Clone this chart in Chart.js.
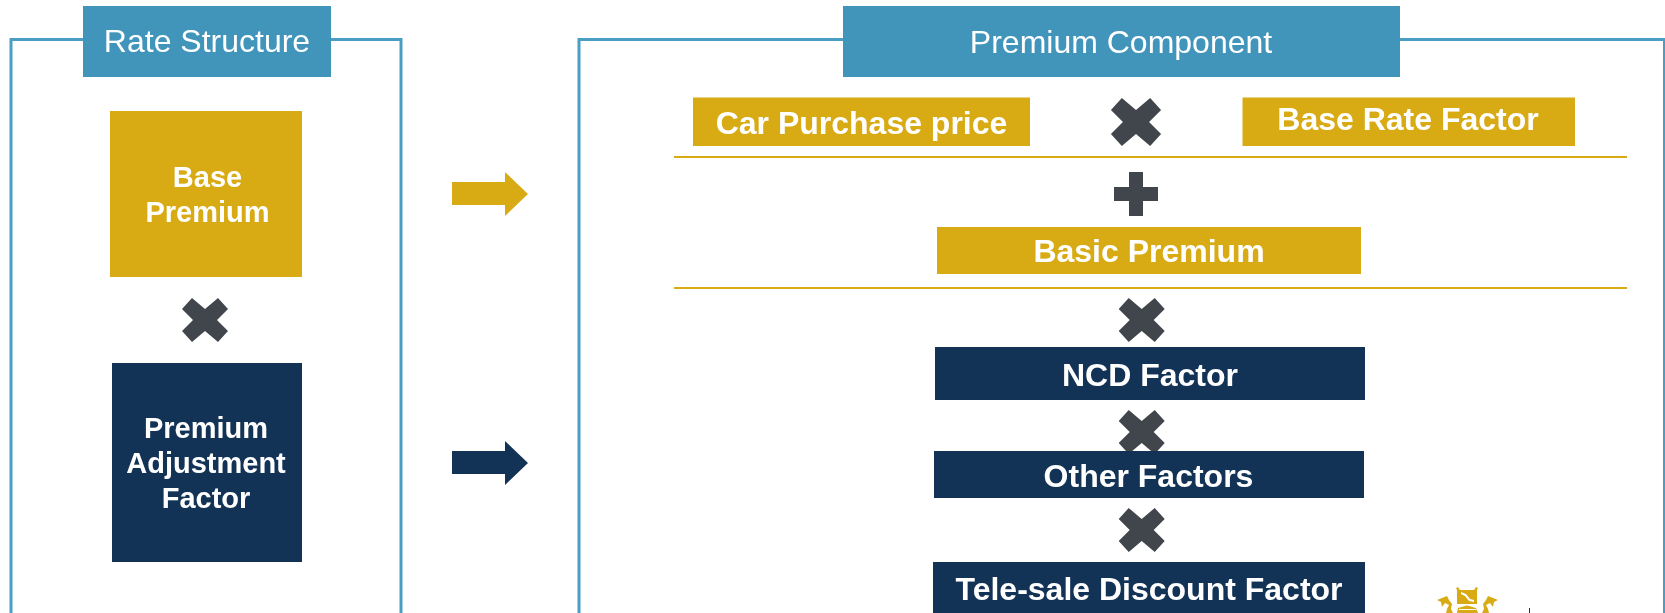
<!DOCTYPE html>
<html><head><meta charset="utf-8">
<style>html,body{margin:0;padding:0;background:#fff;overflow:hidden}canvas{display:block}</style>
<script src="https://cdn.jsdelivr.net/npm/chart.js@4/dist/chart.umd.min.js"></script>
</head><body><canvas id="c" width="1665" height="613"></canvas>
<script>
// diagram values, all in the 1665x613 coordinate space of the linear axes
const goldBoxes = [[110,302,111,277],[693,1030,97.5,146],[1242.5,1575,97.5,146],[937,1361,227,274]];
const navyBoxes = [[112,302,363,562],[935,1365,347,400],[934,1364,451,498],[933,1365,562,613]];
const headerBoxes = [[83,331,6,77],[843,1400,6,77]];
const crossCentres = [[205,320,1],[1136,122,1.09],[1141.7,320,1],[1141.7,432,1],[1141.7,530,1]];
const plusCentres = [[1136,194]];
const goldArrowRow = [452,505,528,182,205,172,216];
const navyArrowRow = [452,505,528,451,474,441,485];
const goldRules = [[674,1627,157],[674,1627,288]];
const frameLeft = [[11,613],[11,39.5],[401,39.5],[401,613]];
const frameRight = [[579,613],[579,39.5],[1664.5,39.5],[1664.5,613]];
const crestCrown = [[1456,588],[1458,587],[1460,590],[1474,590],[1476,587],[1478,588],[1477,590],[1477,604],[1457,604],[1457,590]];
const crestSwoosh = [[1461,592],[1466,594],[1470,599],[1474,600],[1474,602],[1469,601],[1465,596],[1461,594]];
const crestArch = [[1457,613],[1458,608],[1467,605.5],[1476,608],[1478,613]];
const crestArchGap = [[1459,609],[1476,609],[1476,610],[1459,610]];
const crestLion = [[1437,600],[1447,596],[1449,600],[1452,604],[1451,609],[1453,613],[1446,613],[1447,609],[1449,605],[1445,603],[1442,607],[1441,602]];
const crestMirrorX = 2935;
const crestTick = [[1529,608],[1530,608],[1530,613],[1529,613]];
const labels = [
 ['Rate Structure',207,51.7,32,'normal'],['Premium Component',1121,53,32,'normal'],
 ['Base',207.5,186.7,29,'bold'],['Premium',207.5,221.7,29,'bold'],
 ['Premium',206,437.7,29,'bold'],['Adjustment',206,473,29,'bold'],['Factor',206,508,29,'bold'],
 ['Car Purchase price',861.5,134,32,'bold'],['Base Rate Factor',1408,129.5,32,'bold'],
 ['Basic Premium',1149,262,32,'bold'],['NCD Factor',1150,385.7,32,'bold'],
 ['Other Factors',1148.5,486.7,32,'bold'],['Tele-sale Discount Factor',1149,600,32,'bold']
];
const GOLD='#D8AB14',NAVY='#133356',BLUE='#4195BB',DARK='#40464B',FRAME='#4A9EC4';

const pts = a => a.map(([x,y])=>({x,y}));
const closed = a => pts([...a,a[0]]);
const rect = ([x0,x1,y0,y1]) => pts([[x0,y0],[x1,y0],[x1,y1],[x0,y1],[x0,y0]]);
const crossArm = [[-13,-22],[0,-11],[13,-22],[23,-11],[12,0],[23,11],[13,22],[0,11],[-13,22],[-23,11],[-12,0],[-23,-11],[-13,-22]];
const plusArm = [[-7,-22],[7,-22],[7,-7],[22,-7],[22,7],[7,7],[7,22],[-7,22],[-7,7],[-22,7],[-22,-7],[-7,-7],[-7,-22]];
const at = (shape,[cx,cy,k=1]) => pts(shape.map(([x,y])=>[cx+x*k,cy+y*k]));
const arrow = ([a,b,c,s0,s1,h0,h1]) => pts([[a,s0],[b,s0],[b,h0],[c,(h0+h1)/2],[b,h1],[b,s1],[a,s1],[a,s0]]);

const filled = (data,color,order) => ({data,order,showLine:true,tension:0,pointRadius:0,borderWidth:0,borderColor:color,backgroundColor:color,fill:'shape',clip:false});
const stroked = (data,color,w,order) => ({data,order,showLine:true,tension:0,pointRadius:0,borderWidth:w,borderColor:color,backgroundColor:color,fill:false,clip:false,borderCapStyle:'butt',borderJoinStyle:'miter'});

const datasets = [
 stroked(pts(frameLeft),FRAME,3,50), stroked(pts(frameRight),FRAME,3,50),
 ...headerBoxes.map(b=>filled(rect(b),BLUE,40)),
 ...goldRules.map(([a,b,y])=>stroked(pts([[a,y],[b,y]]),GOLD,2,30)),
 ...crossCentres.map(c=>filled(at(crossArm,c),DARK,20)),
 ...plusCentres.map(c=>filled(at(plusArm,c),DARK,20)),
 ...goldBoxes.map(b=>filled(rect(b),GOLD,10)),
 ...navyBoxes.map(b=>filled(rect(b),NAVY,10)),
 filled(arrow(goldArrowRow),GOLD,10), filled(arrow(navyArrowRow),NAVY,10),
 filled(closed(crestCrown),GOLD,5), filled(closed(crestArch),GOLD,5),
 filled(closed(crestLion),GOLD,5),
 filled(closed(crestLion.map(([x,y])=>[crestMirrorX-x,y])),GOLD,5),
 filled(closed(crestSwoosh),'#ffffff',4), filled(closed(crestArchGap),'#ffffff',4),
 filled(closed(crestTick),NAVY,5)
];

const textPlugin = {id:'labels',afterDatasetsDraw(chart){
  const {ctx,scales:{x,y}}=chart; ctx.save();
  ctx.fillStyle='#ffffff'; ctx.textAlign='center'; ctx.textBaseline='alphabetic';
  for(const [t,tx,ty,size,weight] of labels){
    ctx.font=`${weight} ${size}px "Liberation Sans", Arial, sans-serif`;
    ctx.fillText(t,x.getPixelForValue(tx),y.getPixelForValue(ty));
  }
  ctx.restore();
}};
new Chart(document.getElementById('c'),{type:'scatter',data:{datasets},plugins:[textPlugin],options:{
  responsive:false,animation:false,events:[],layout:{padding:0},
  plugins:{legend:{display:false},tooltip:{enabled:false},title:{display:false}},
  scales:{x:{type:'linear',min:0,max:1665,display:false},y:{type:'linear',min:0,max:613,reverse:true,display:false}}
}});
</script></body></html>
